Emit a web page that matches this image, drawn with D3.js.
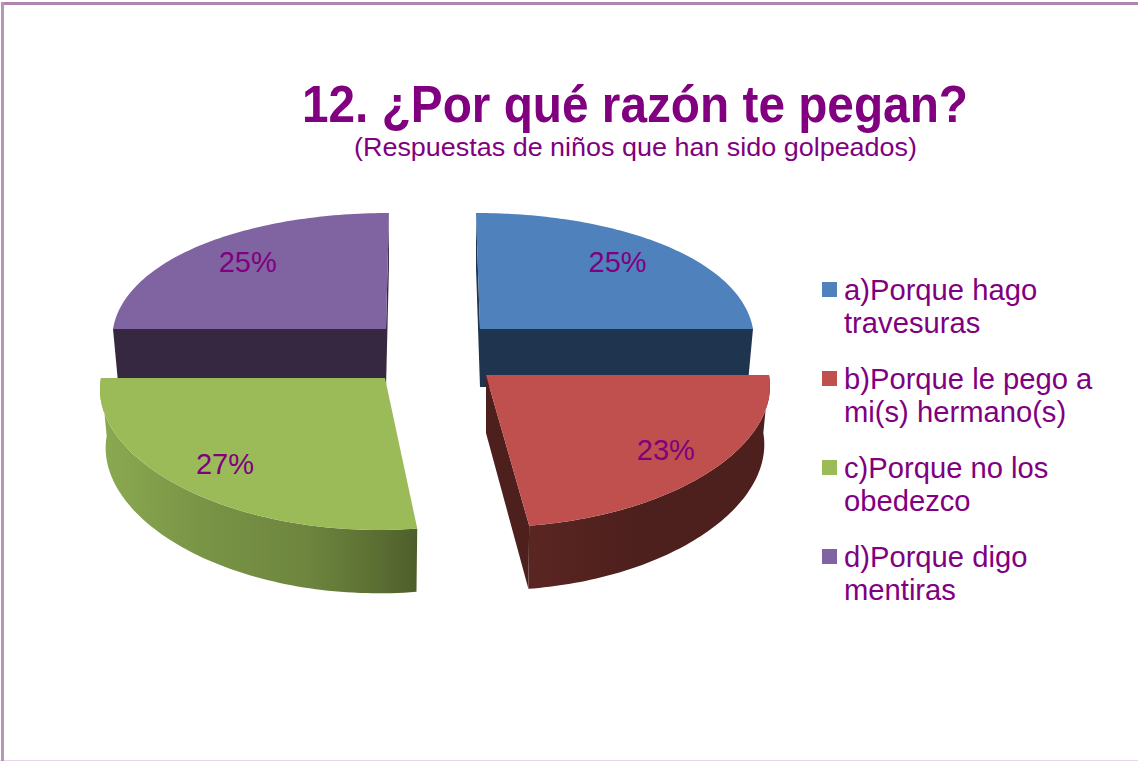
<!DOCTYPE html>
<html><head><meta charset="utf-8">
<style>html,body{margin:0;padding:0;background:#fff}svg{display:block}text{font-family:"Liberation Sans",Arial,sans-serif;fill:#800080}</style>
<script src="https://cdn.jsdelivr.net/npm/d3@7"></script></head><body><script>
const titleText = "12. ¿Por qué razón te pegan?";
const subtitleText = "(Respuestas de niños que han sido golpeados)";
const categories = ["a)Porque hago travesuras","b)Porque le pego a mi(s) hermano(s)","c)Porque no los obedezco","d)Porque digo mentiras"];
const legendLines = [["a)Porque hago","travesuras"],["b)Porque le pego a","mi(s) hermano(s)"],["c)Porque no los","obedezco"],["d)Porque digo","mentiras"]];
const values = [25,23,27,25];
const colors = ["#4f81bd","#c0504d","#9bbb59","#8064a2"];
const wallColors = ["#1f344f","#4d1f1d","#6f8840","#362841"];

// layout of each exploded slice: apex position, radius, vanishing x, label placement
const apexX=[480,486,385,386], apexY=[329,375,378,329], radiusX=[273,283,284,273], vanishX=[446,453,424,411];
const labelRadius=[0.75,0.805,0.80,0.75], labelDy=[8,10,10,8];
const radiusY=131.6, persp=0.134, wallDepth=58, bottomRx=0.98, bottomRy=1.035;

const W=1138,H=761;
const svg=d3.select("body").append("svg").attr("width",W).attr("height",H);
const defs=svg.append("defs");
const g1=defs.append("linearGradient").attr("id","gw").attr("gradientUnits","userSpaceOnUse").attr("x1",103).attr("x2",418).attr("y1",0).attr("y2",0);
[[0,"#8ba951"],[.3,"#7a9546"],[.65,"#6d853e"],[.85,"#5d7133"],[1,"#4e5e2b"]].forEach(s=>g1.append("stop").attr("offset",s[0]).attr("stop-color",s[1]));
const g2=defs.append("linearGradient").attr("id","rw").attr("gradientUnits","userSpaceOnUse").attr("x1",528).attr("x2",640).attr("y1",0).attr("y2",0);
[[0,"#5a2622"],[1,"#4d1f1d"]].forEach(s=>g2.append("stop").attr("offset",s[0]).attr("stop-color",s[1]));

// frame
svg.append("rect").attr("x",0).attr("y",760).attr("width",W).attr("height",1).attr("fill","#e6d8e6");
svg.append("rect").attr("x",1).attr("y",2).attr("width",W).attr("height",3).attr("fill","#ad85ad");
svg.append("rect").attr("x",1).attr("y",2).attr("width",3).attr("height",H).attr("fill","#b795b7");

const pie=d3.pie().sort(null).value(d=>d);
const arcs=pie(values);

function pt(i,a,r,bottom){
  const X=Math.sin(a)*r, Y=-Math.cos(a)*r, w=1-persp*Y;
  const rx=radiusX[i]*(bottom?bottomRx:1), ry=radiusY*(bottom?bottomRy:1);
  return [vanishX[i]+(apexX[i]-vanishX[i])/w+rx*X/Math.sqrt(w), apexY[i]+(bottom?wallDepth:0)+ry*Y/w];
}
const pathLine=d3.line();
function rim(i,a0,a1,bottom){
  const n=80; return d3.range(n+1).map(k=>pt(i,a0+(a1-a0)*k/n,1,bottom));
}
function topFace(i){const a=arcs[i];return [pt(i,0,0,false),...rim(i,a.startAngle,a.endAngle,false)];}
const draw=(pts,fill)=>svg.append("path").attr("d",pathLine(pts)+"Z").attr("fill",fill);

// back slices first: purple, blue
[3,0].forEach(i=>{
  const a=arcs[i];
  draw([pt(i,a.startAngle,1,false),pt(i,0,0,false),pt(i,0,0,true),pt(i,a.startAngle,1,true)],wallColors[i]);
  draw([pt(i,a.endAngle,1,false),pt(i,0,0,false),pt(i,0,0,true),pt(i,a.endAngle,1,true)],wallColors[i]);
  draw(topFace(i),colors[i]);
});
// front slices
(function(){
  const i=2,a=arcs[i];
  const r0=rim(i,a.startAngle,a.endAngle,false), r1=rim(i,a.startAngle,a.endAngle,true).reverse();
  draw([...r0,...r1],"url(#gw)");
  draw(topFace(i),colors[i]);
})();
(function(){
  const i=1,a=arcs[i];
  draw([pt(i,0,0,false),pt(i,a.endAngle,1,false),pt(i,a.endAngle,1,true),pt(i,0,0,true)],wallColors[i]);
  const r0=rim(i,a.startAngle,a.endAngle,false), r1=rim(i,a.startAngle,a.endAngle,true).reverse();
  draw([...r0,...r1],"url(#rw)");
  draw(topFace(i),colors[i]);
})();

// data labels
arcs.forEach((a,i)=>{
  const p=pt(i,(a.startAngle+a.endAngle)/2,labelRadius[i],false);
  svg.append("text").attr("x",p[0]).attr("y",p[1]+labelDy[i]).attr("text-anchor","middle").attr("font-size",29).text(Math.round(a.data)+"%");
});

// titles
svg.append("text").attr("x",302).attr("y",122).attr("font-size",52).attr("font-weight","bold").attr("textLength",666).attr("lengthAdjust","spacingAndGlyphs").text(titleText);
svg.append("text").attr("x",354).attr("y",156).attr("font-size",26).attr("textLength",563).attr("lengthAdjust","spacingAndGlyphs").text(subtitleText);

// legend
const rowY=d3.scalePoint().domain(categories).range([300,567]);
categories.forEach((c,i)=>{
  const y=rowY(c);
  svg.append("rect").attr("x",822).attr("y",y-18).attr("width",15).attr("height",15).attr("fill",colors[i]);
  legendLines[i].forEach((t,j)=>svg.append("text").attr("x",844).attr("y",y+j*33).attr("font-size",29.2).text(t));
});
</script></body></html>
